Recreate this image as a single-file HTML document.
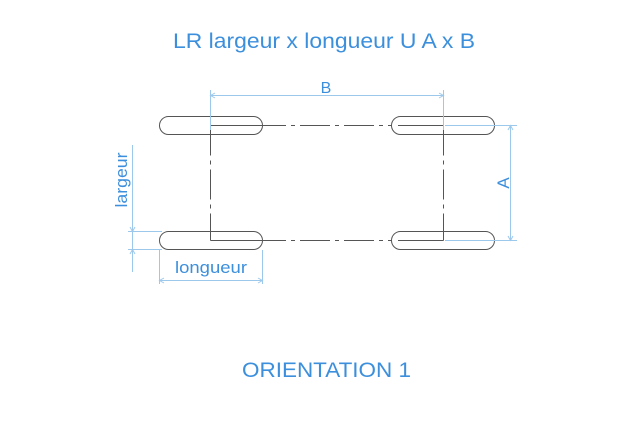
<!DOCTYPE html>
<html><head><meta charset="utf-8"><style>html,body{margin:0;padding:0;background:#fff}</style></head>
<body>
<svg width="640" height="427" xmlns="http://www.w3.org/2000/svg" font-family="Liberation Sans, sans-serif">
<rect width="640" height="427" fill="#fff"/>
<text x="173" y="48" font-size="21" fill="#3c8fdc" textLength="302" lengthAdjust="spacingAndGlyphs">LR largeur x longueur U A x B</text>
<text x="242" y="377" font-size="21" fill="#3c8fdc" textLength="169" lengthAdjust="spacingAndGlyphs">ORIENTATION 1</text>
<g fill="none" stroke="#555" stroke-width="1">
<rect x="159.5" y="116.5" width="103" height="18" rx="9"/>
<rect x="159.5" y="231.5" width="103" height="18" rx="9"/>
<rect x="391.5" y="116.5" width="103" height="18" rx="9"/>
<rect x="391.5" y="231.5" width="103" height="18" rx="9"/>
<path d="M210.5 125.5H256M443.5 125.5H398M210.5 240.5H256M443.5 240.5H398"/>
<path d="M256 125.5H392M256 240.5H392M210.5 125.5V240.5M443.5 125.5V240.5" stroke-dasharray="30,5,4,5"/>
</g>
<g stroke="#9cc8ec" stroke-width="1" fill="none">
<path d="M210.5 90V130M443.5 90V130M210.5 95.5H443.5"/>
<path d="M215 93L210.5 95.5L215 98M439 93L443.5 95.5L439 98"/>
<path d="M445 125.5H517M445 240.5H517M510.5 125.5V240.5"/>
<path d="M508 130L510.5 125.5L513 130M508 236L510.5 240.5L513 236"/>
<path d="M128 231.5H162M128 249.5H162M132.5 145V272"/>
<path d="M130 227L132.5 231.5L135 227M130 254L132.5 249.5L135 254"/>
<path d="M159.5 250V284M262.5 250V284M159.5 280.5H262.5"/>
<path d="M164 278L159.5 280.5L164 283M258 278L262.5 280.5L258 283"/>
</g>
<text x="326" y="93" font-size="16" fill="#3c8fdc" text-anchor="middle">B</text>
<text transform="translate(509,183) rotate(-90)" font-size="17" fill="#3c8fdc" text-anchor="middle">A</text>
<text transform="translate(127,180) rotate(-90)" font-size="17" fill="#3c8fdc" text-anchor="middle" textLength="55" lengthAdjust="spacingAndGlyphs">largeur</text>
<text x="211" y="273" font-size="17" fill="#3c8fdc" text-anchor="middle" textLength="72" lengthAdjust="spacingAndGlyphs">longueur</text>
</svg>
</body></html>
